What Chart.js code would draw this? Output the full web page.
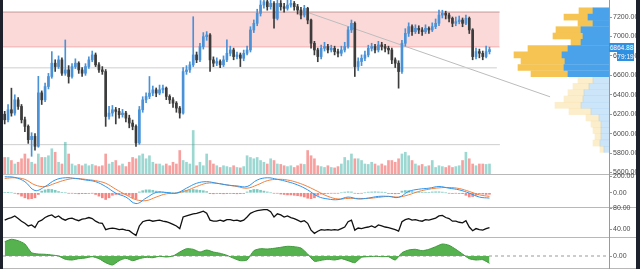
<!DOCTYPE html>
<html>
<head>
<script src="https://cdn.jsdelivr.net/npm/chart.js@4.4.0/dist/chart.umd.min.js"></script>
<style>
  body { margin: 0; background: #fff; width: 640px; height: 269px; overflow: hidden; position: relative; }
  canvas { position: absolute; }
  .sep { position: absolute; left: 3px; width: 633px; height: 1px; background: #b8b8b8; }
  .frame { position: absolute; top: 0; height: 269px; background: #1d212b; }
  .tag { position: absolute; color: #fff; background: #2f8fe0; font-family: 'Liberation Sans Narrow', 'Liberation Sans', sans-serif;
         font-size: 6.5px; line-height: 9px; height: 9px; text-align: center; }
</style>
<title>BTC chart</title>
</head>
<body>
<div class="sep" style="top:174px"></div>
<div class="sep" style="top:207px"></div>
<div class="sep" style="top:237px"></div>
<div class="sep" style="top:268px"></div>

<canvas id="price" width="640" height="182" style="left:0;top:0"></canvas>
<canvas id="profile" width="129" height="182" style="left:480px;top:0"></canvas>
<canvas id="macd" width="640" height="45" style="left:0;top:168px"></canvas>
<canvas id="rsi" width="640" height="42" style="left:0;top:201px"></canvas>
<canvas id="osc" width="640" height="38" style="left:0;top:231px"></canvas>

<div class="tag" style="left:609px;top:43px;width:25px">6864.88</div>
<div class="tag" style="left:617px;top:52px;width:17px">79:19</div>

<div class="frame" style="left:0;width:3px"></div>
<div class="frame" style="left:636px;width:4px"></div>

<script>
// ---- data ----
var firstOpen = 6200;
var closes = [
  6143, 6246, 6212, 6348, 6280, 6143, 6075, 5938, 5972, 5870,
  6420, 6348, 6485, 6588, 6725, 6690, 6759, 6622, 6656, 6588,
  6690, 6725, 6656, 6622, 6690, 6759, 6810, 6708, 6656, 6639,
  6177, 6212, 6246, 6229, 6195, 6212, 6160, 6109, 6075, 5904,
  6246, 6348, 6383, 6417, 6451, 6417, 6451, 6468, 6383, 6348,
  6314, 6263, 6212, 6639, 6656, 6708, 6810, 6759, 6896, 6998,
  7015, 6759, 6725, 6742, 6708, 6759, 6827, 6861, 6793, 6810,
  6776, 6827, 6861, 7067, 7135, 7238, 7323, 7357, 7306, 7340,
  7186, 7340, 7306, 7289, 7323, 7340, 7306, 7272, 7220, 7289,
  7169, 6930, 6861, 6793, 6878, 6896, 6861, 6878, 6844, 6827,
  6861, 6896, 7067, 7135, 6690, 6742, 6776, 6810, 6878, 6896,
  6861, 6913, 6896, 6878, 6861, 6759, 6725, 6639, 6930, 7032,
  7101, 7049, 7084, 7067, 7049, 7084, 7067, 7101, 7135, 7220,
  7238, 7220, 7186, 7135, 7152, 7169, 7135, 7186, 7067, 6793,
  6844, 6827, 6793, 6844, 6864.88
];
var highs = [
  6230, 6300, 6468, 6400, 6370, 6300, 6170, 6090, 6010, 6000,
  6590, 6440, 6520, 6620, 6844, 6760, 6800, 6780, 6964, 6700,
  6720, 6770, 6740, 6680, 6720, 6790, 6850, 6830, 6730, 6690,
  6660, 6280, 6290, 6270, 6260, 6250, 6230, 6190, 6140, 6090,
  6280, 6380, 6420, 6588, 6490, 6470, 6500, 6500, 6480, 6400,
  6370, 6330, 6280, 6680, 6700, 6740, 7203, 6840, 6930, 7040,
  7050, 7030, 6790, 6780, 6760, 6800, 6964, 6900, 6880, 6840,
  6830, 6860, 6900, 7100, 7170, 7280, 7370, 7420, 7390, 7400,
  7360, 7380, 7370, 7340, 7380, 7390, 7360, 7330, 7300, 7320,
  7300, 7180, 6950, 6880, 6910, 6940, 6920, 6910, 6900, 6870,
  6900, 6940, 7100, 7169, 7150, 6780, 6810, 6850, 6910, 6930,
  6920, 6950, 6940, 6920, 6900, 6880, 6780, 6750, 6960, 7080,
  7140, 7120, 7120, 7110, 7090, 7120, 7100, 7140, 7180, 7272,
  7270, 7260, 7240, 7200, 7200, 7210, 7190, 7220, 7200, 7080,
  6880, 6870, 6850, 6900, 6890
];
var lows = [
  6100, 6120, 6180, 6190, 6250, 6110, 6020, 5900, 5767, 5830,
  5860, 6300, 6330, 6460, 6570, 6640, 6670, 6600, 6600, 6520,
  6570, 6670, 6620, 6590, 6600, 6670, 6740, 6690, 6630, 6610,
  6075, 6150, 6180, 6100, 6160, 6170, 6120, 6060, 6040, 5870,
  5890, 6220, 6320, 6360, 6390, 6380, 6400, 6420, 6350, 6310,
  6270, 6220, 6160, 6200, 6610, 6630, 6690, 6730, 6740, 6870,
  6960, 6640, 6690, 6700, 6680, 6690, 6740, 6800, 6760, 6770,
  6690, 6750, 6810, 6840, 7040, 7110, 7210, 7290, 7270, 7280,
  7084, 7170, 7270, 7250, 7270, 7300, 7270, 7230, 7180, 7200,
  7130, 6880, 6810, 6740, 6770, 6850, 6830, 6840, 6810, 6790,
  6800, 6840, 6880, 7040, 6588, 6650, 6700, 6750, 6790, 6850,
  6830, 6840, 6860, 6840, 6820, 6720, 6680, 6468, 6620, 6900,
  7000, 7010, 7030, 7030, 7010, 7030, 7030, 7050, 7080, 7110,
  7190, 7180, 7150, 7100, 7110, 7130, 7100, 7120, 7030, 6760,
  6770, 6780, 6760, 6780, 6820
];
var volumes = [
  38, 38, 31, 23, 27, 35, 46, 35, 27, 23,
  46, 38, 38, 42, 58, 50, 27, 23, 73, 46,
  23, 19, 22, 19, 23, 19, 22, 19, 17, 19,
  46, 23, 27, 31, 19, 23, 17, 27, 38, 35,
  42, 46, 35, 42, 27, 23, 23, 19, 23, 19,
  27, 23, 54, 31, 27, 23, 100, 19, 27, 19,
  46, 31, 23, 19, 15, 19, 17, 15, 19, 15,
  14, 17, 42, 38, 35, 38, 31, 27, 23, 35,
  31, 23, 22, 19, 17, 19, 15, 19, 23, 22,
  54, 42, 35, 19, 17, 15, 19, 15, 14, 17,
  23, 38, 31, 46, 35, 35, 31, 23, 22, 27,
  23, 19, 23, 19, 31, 31, 27, 35, 46, 50,
  42, 31, 23, 19, 22, 17, 19, 31, 15, 19,
  17, 15, 19, 15, 17, 19, 31, 50, 35, 23,
  19, 23, 23, 22, 23
];

// drawn levels on the price pane
var zoneTop = 7251, zoneBottom = 6892, zoneEnd = 147;
var levelPrices = [6677, 5887];
var levelEnds = [146.2, 147.1];
var trendFrom = { x: 89.7, y: 7251 };
var trendTo = { x: 162, y: 6379 };

// volume profile (rows by price)
var profilePrices = [7351, 7279, 7207, 7135, 7063, 6991, 6919, 6847, 6775, 6703, 6631,
                     6559, 6487, 6415, 6343, 6271, 6199, 6127, 6055, 5983, 5911, 5839, 5767];
var profileUp   = [16, 21, 16, 28, 26, 28, 41, 47, 44, 45, 41, 16, 20, 25, 26, 28, 18, 10, 8, 8, 8, 9, 5];
var profileDown = [14, 24, 15, 25, 30, 10, 40, 48, 44, 46, 37, 15, 16, 16, 19, 26, 22, 13, 10, 8, 6, 7, 4];
var valueAreaLow = 6595;

// MACD, one point every 3 bars
var macdStep = 3;
var macdLine = [192, 184, 133, 27, 75, 153, 180, 172, 153, 133, 75, -4, -51, -129, -63, 4, 4, -4, 55, 114,
                133, 114, 94, 82, 75, 153, 180, 161, 133, 94, 35, -43, -74, -82, -51, -74, -63, -43, -43, -55,
                16, 43, 55, 75, 55, 35, -4, -51, -63];
var signalLine = [172, 180, 161, 94, 75, 114, 153, 172, 161, 145, 114, 43, -24, -82, -94, -51, -12, -4, 27, 75,
                  114, 114, 94, 75, 55, 94, 145, 161, 153, 122, 75, 16, -43, -74, -67, -67, -67, -55, -43, -51,
                  -24, 16, 43, 59, 63, 51, 16, -24, -43];
var macdHist = [
  5, 3, 0, -5, -15, -40, -60, -74, -70, -60,
  -20, 20, 35, 43, 40, 30, 15, 5, 0, -5,
  -5, -8, -12, -10, -10, -8, -5, -20, -40, -60,
  -80, -60, -30, -20, -15, -15, -20, -30, -60, -70,
  10, 25, 35, 35, 30, 20, 15, 10, 5, 5,
  0, 0, 10, 25, 30, 35, 40, 35, 30, 25,
  15, -10, -12, -8, -10, -12, -10, -8, -10, -12,
  -10, -8, 10, 30, 40, 40, 30, 20, 10, 0,
  -5, -5, -15, -20, -25, -25, -30, -35, -40, -50,
  -65, -70, -60, -30, -15, -10, -8, -5, -5, -5,
  0, 8, 12, 10, -5, -8, -5, 0, 8, 10,
  12, 10, 8, 5, -8, -10, -12, -10, 20, 27,
  25, 15, 8, 5, 5, 5, 5, 10, 12, 12,
  8, 0, -5, -8, -5, -8, -10, -30, -50, -45,
  -30, -10, -15, -20, -18
];

var rsi = [
  57, 60, 62, 65, 60, 55, 51, 46, 48, 43,
  54, 57, 62, 65, 67, 62, 65, 60, 57, 60,
  61, 58, 56, 59, 60, 62, 60, 55, 52, 51,
  39, 41, 42, 41, 39, 40, 38, 37, 32, 28,
  46, 54, 56, 57, 55, 56, 57, 55, 54, 52,
  49, 46, 41, 63, 65, 67, 69, 70, 72, 74,
  70, 57, 55, 55, 57, 55, 58, 58, 56, 57,
  55, 57, 63, 70, 73, 75, 76, 77, 77, 73,
  63, 69, 67, 63, 65, 62, 60, 57, 54, 56,
  51, 38, 32, 36, 39, 38, 39, 38, 39, 38,
  41, 44, 54, 57, 38, 42, 41, 43, 44, 46,
  43, 48, 46, 44, 43, 41, 39, 36, 54, 58,
  60, 57, 58, 56, 55, 58, 57, 59, 61, 65,
  66, 62, 60, 55, 55, 53, 52, 56, 44, 37,
  41, 39, 38, 41, 43
];

// bottom oscillator, one point every 2 bars
var oscStep = 2;
var osc = [
  14.3, 16.7, 15.3, 12, 3.3, 2, 1.7, 1, 0, -3.3,
  -4, -2.7, -2, -0.7, -2.7, -6.7, -9, -4.7, -2.3, -4.7,
  -2.7, -1.3, -1.7, -0.3, -1, 0, 4, 7.3, 6.7, 4,
  6, 4, 2.7, 0.7, -2.3, -4.7, -4, 5.3, 7.3, 7,
  7.7, 8.7, 9.7, 9.3, 8, 2, -5.3, -4.3, -3.3, -4,
  -2.7, -4.7, -6.7, -1.3, -0.7, -0.3, -0.7, -0.7, -4, 3.3,
  6, 6.7, 5.3, 6.7, 9.3, 12, 10.7, 6.7, 2, -2.7,
  -4, -3.7, -7.3
];

// ---- layout / styling ----
var X_MIN = -0.5, X_MAX = 179.5;
var PRICE_MIN = 5585, PRICE_MAX = 7375;
var TICK_FONT = { family: "'Liberation Sans Narrow', 'Liberation Sans', sans-serif", size: 7 };
var UP = '#4a92d8', DOWN = '#3c3c3c';

var opens = closes.map(function (c, i) { return i === 0 ? firstOpen : closes[i - 1]; });
var isUp = closes.map(function (c, i) { return c >= opens[i]; });

function yAxis(min, max, step) {
    return {
        position: 'right', min: min, max: max,
        afterFit: function (s) {
            s.width = 31;
            // labels may spill over the pane edge, don't shrink the plot for them
            s.paddingTop = 0;
            s.paddingBottom = 0;
        },
        // ticks on round multiples of the step, inside the pane
        afterBuildTicks: function (s) {
            var t = [];
            for (var v = Math.ceil(min / step) * step; v <= max; v += step) t.push({ value: v });
            s.ticks = t;
        },
        border: { display: true, color: '#9a9a9a' },
        grid: { drawOnChartArea: false, drawTicks: true, tickLength: 3, color: '#9a9a9a' },
        ticks: {
            padding: 1, color: '#4a4a4a', font: TICK_FONT,
            callback: function (v) { return Number(v).toFixed(2); }
        }
    };
}

function baseOptions(y, padTop, padBottom) {
    return {
        responsive: false, animation: false,
        plugins: { legend: { display: false }, tooltip: { enabled: false } },
        layout: { padding: { left: 3, right: 0, top: padTop, bottom: padBottom } },
        scales: {
            x: { type: 'linear', min: X_MIN, max: X_MAX, display: false, offset: false },
            y: y
        }
    };
}

function flatLine(y, x0, x1, color, order) {
    return {
        type: 'line', data: [{ x: x0, y: y }, { x: x1, y: y }],
        borderColor: color, borderWidth: 1, pointRadius: 0, order: order
    };
}

// ---- price pane ----
var priceOpts = baseOptions(yAxis(PRICE_MIN, PRICE_MAX, 200), 0, 8);
priceOpts.scales.yv = { display: false, min: 0, max: 400 };

var priceSets = [
    Object.assign(flatLine(zoneTop, X_MIN, zoneEnd, '#c79a9a', 10),
        { fill: '+1', backgroundColor: 'rgba(242,140,140,0.33)' }),
    flatLine(zoneBottom, X_MIN, zoneEnd, '#f0bcbc', 10),
    flatLine(levelPrices[0], X_MIN, levelEnds[0], '#cfcfcf', 9),
    flatLine(levelPrices[1], X_MIN, levelEnds[1], '#cfcfcf', 9),
    {
        type: 'line', data: [trendFrom, trendTo], borderColor: '#bcbcbc',
        borderWidth: 1, pointRadius: 0, order: 9
    },
    {
        type: 'bar', yAxisID: 'yv', grouped: false, barThickness: 2, order: 8,
        data: volumes.map(function (v, i) { return { x: i, y: v }; }),
        backgroundColor: isUp.map(function (u) { return u ? 'rgba(38,166,154,0.45)' : 'rgba(239,83,80,0.55)'; })
    },
    {
        type: 'bar', grouped: false, barThickness: 1, order: 2,
        data: closes.map(function (c, i) {
            return { x: i, y: [Math.min(lows[i], opens[i], c), Math.max(highs[i], opens[i], c)] };
        }),
        backgroundColor: isUp.map(function (u) { return u ? UP : DOWN; })
    },
    {
        type: 'bar', grouped: false, barThickness: 2, order: 1, minBarLength: 1,
        data: closes.map(function (c, i) { return { x: i, y: [opens[i], c] }; }),
        backgroundColor: isUp.map(function (u) { return u ? UP : DOWN; })
    }
];

new Chart(document.getElementById('price'), { type: 'bar', data: { datasets: priceSets }, options: priceOpts });

// ---- volume profile ----
function rowColors(sat, pale) {
    return profilePrices.map(function (p) { return p >= valueAreaLow ? sat : pale; });
}
new Chart(document.getElementById('profile'), {
    type: 'bar',
    data: {
        datasets: [
            {
                data: profilePrices.map(function (p, k) { return { x: profileUp[k], y: p }; }),
                backgroundColor: rowColors('#4aa3ea', 'rgba(74,163,234,0.28)'), barThickness: 6
            },
            {
                data: profilePrices.map(function (p, k) { return { x: profileDown[k], y: p }; }),
                backgroundColor: rowColors('#f5c452', 'rgba(245,196,82,0.3)'), barThickness: 6
            }
        ]
    },
    options: {
        indexAxis: 'y', responsive: false, animation: false,
        plugins: { legend: { display: false }, tooltip: { enabled: false } },
        layout: { padding: { top: 0, bottom: 8, left: 0, right: 0 } },
        scales: {
            x: { type: 'linear', reverse: true, min: 0, max: 129, stacked: true, display: false },
            y: { type: 'linear', min: PRICE_MIN, max: PRICE_MAX, stacked: true, display: false }
        }
    }
});

// ---- MACD pane ----
function stepped(arr, step) {
    return arr.map(function (v, k) { return { x: k * step, y: v }; });
}
new Chart(document.getElementById('macd'), {
    type: 'bar',
    data: {
        datasets: [
            {
                type: 'bar', grouped: false, barThickness: 2, order: 3,
                data: macdHist.map(function (v, i) { return { x: i, y: v }; }),
                backgroundColor: macdHist.map(function (v) { return v >= 0 ? 'rgba(38,166,154,0.6)' : 'rgba(239,83,80,0.7)'; })
            },
            {
                type: 'line', data: stepped(signalLine, macdStep), borderColor: '#f0803c',
                borderWidth: 1, pointRadius: 0, tension: 0.4, order: 2
            },
            {
                type: 'line', data: stepped(macdLine, macdStep), borderColor: '#2b95ee',
                borderWidth: 1, pointRadius: 0, tension: 0.4, order: 1
            }
        ]
    },
    options: baseOptions(yAxis(-170, 225, 200), 6, 6)
});

// ---- RSI pane ----
new Chart(document.getElementById('rsi'), {
    type: 'line',
    data: {
        datasets: [{
            data: rsi.map(function (v, i) { return { x: i, y: v }; }),
            borderColor: '#111', borderWidth: 1.3, pointRadius: 0, tension: 0
        }]
    },
    options: baseOptions(yAxis(25, 82, 40), 6, 6)
});

// ---- bottom oscillator pane ----
new Chart(document.getElementById('osc'), {
    type: 'line',
    data: {
        datasets: [
            {
                data: stepped(osc, oscStep), borderColor: '#3f9a3c', borderWidth: 1,
                backgroundColor: '#56b24e', fill: 'origin', pointRadius: 0, tension: 0.2, order: 1
            },
            {
                data: [{ x: X_MIN, y: 0 }, { x: X_MAX, y: 0 }], borderColor: '#9a9a9a',
                borderWidth: 1, borderDash: [3, 3], pointRadius: 0, order: 2
            }
        ]
    },
    options: baseOptions(yAxis(-13, 19, 100), 6, 0)
});
</script>
</body>
</html>
